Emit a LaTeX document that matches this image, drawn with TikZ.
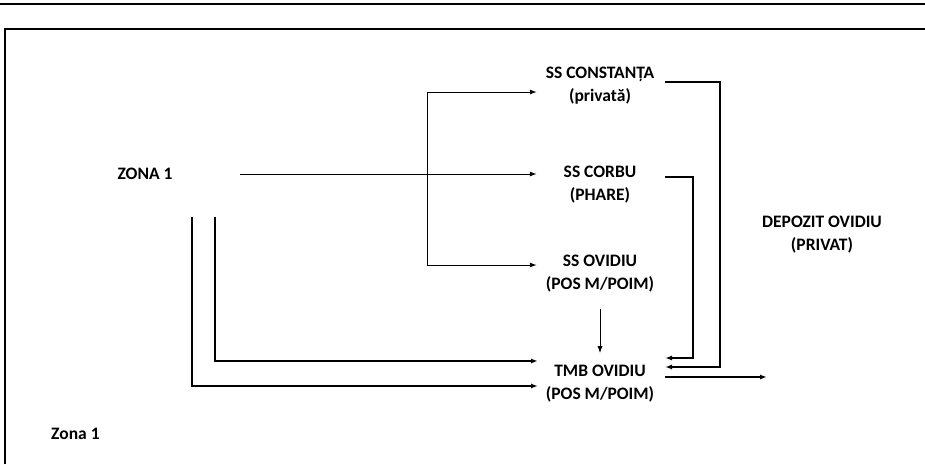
\documentclass[tikz,border=0pt]{standalone}
\usepackage{fontspec}
\setmainfont{Carlito}
\usetikzlibrary{arrows.meta}

\begin{document}
\begin{tikzpicture}[x=1pt, y=-1pt,
    every node/.style={font=\bfseries\fontsize{17.5}{23}\selectfont, align=center, inner sep=0pt},
    site/.style={minimum width=126pt},
    feed/.style={-{Latex[length=7pt,width=5pt]}, line width=1pt},
    heavy/.style={-{Latex[length=7pt,width=5pt]}, line width=1.8pt}]
  \useasboundingbox (0,0) rectangle (925,464);
  % page rules
  \draw[line width=2pt] (0,4) -- (925,4);
  \draw[line width=1.5pt] (5,464) -- (5,29) -- (925,29);
  % nodes
  \node[minimum width=190pt] (zona) at (145,174) {ZONA 1};
  \node[site] (constanta) at (600,86) {SS CONSTANȚA\\(privată)};
  \node[site] (corbu) at (600,185) {SS CORBU\\(PHARE)};
  \node[site] (ovidiu) at (600,274) {SS OVIDIU\\(POS M/POIM)};
  \node[site] (tmb) at (600,384) {TMB OVIDIU\\(POS M/POIM)};
  \node (depozit) at (822,235) {DEPOZIT OVIDIU\\(PRIVAT)};
  \node[anchor=west] (zonanote) at (51,434) {Zona 1};
  % branch points
  \coordinate (trunktop) at (427,92);
  \coordinate (trunkbot) at (427,265);
  \coordinate (outerfeed) at (192,217);
  \coordinate (innerfeed) at (215,217);
  \coordinate (tmbhigh) at (538,361);
  \coordinate (tmblow) at (538,386);
  \coordinate (constout) at (665,82);
  \coordinate (corbuout) at (665,177);
  \coordinate (tmbin1) at (665,358);
  \coordinate (tmbin2) at (665,367);
  \coordinate (tmbout) at (665,377);
  % connectors
  \draw[feed] (zona.east) -- (zona.east -| corbu.west);
  \draw[line width=1pt] (trunktop) -- (trunkbot);
  \draw[feed] (trunktop) -- (trunktop -| constanta.west);
  \draw[feed] (trunkbot) -- (trunkbot -| ovidiu.west);
  \draw[feed, shorten <=16pt, shorten >=12pt] (ovidiu.south) -- (tmb.north);
  \draw[heavy] (innerfeed) |- (tmbhigh);
  \draw[heavy, line width=1.4pt] (outerfeed) |- (tmblow);
  \draw[heavy] (constout) -- (720,82) |- (tmbin2);
  \draw[heavy] (corbuout) -- (693,177) |- (tmbin1);
  \draw[heavy] (tmbout) -- (767,377);
\end{tikzpicture}
\end{document}
